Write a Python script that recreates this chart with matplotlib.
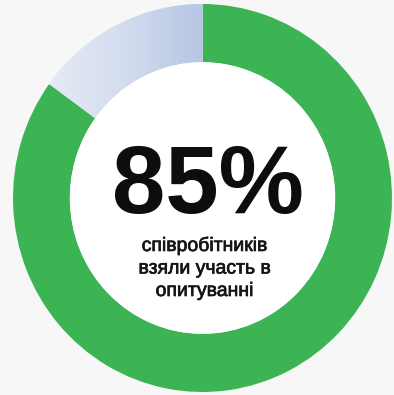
import matplotlib.patheffects as pe
import matplotlib.pyplot as plt
import numpy as np
from matplotlib.colors import LinearSegmentedColormap
from matplotlib.patches import Circle

shares = [85, 15]
share_colors = ["#3cb454", "#d6dff0"]
headline = "85%"
caption_lines = ["співробітників", "взяли участь в", "опитуванні"]

W, H = 394, 395
fig = plt.figure(figsize=(W / 100, H / 100), dpi=100)
fig.patch.set_facecolor("#f7f7f7")

# ring axes sits on the bounding box of the donut (pixel units)
left, right, top, bottom = 13, 392, 4, 392
ring = fig.add_axes([left / W, (H - bottom) / H, (right - left) / W, (bottom - top) / H])
wedges, _ = ring.pie(
    shares,
    colors=share_colors,
    startangle=90,
    counterclock=False,
    radius=1.0,
    wedgeprops=dict(width=0.30, edgecolor="none", linewidth=0),
)

# soft horizontal gradient on the remaining share
grad_cmap = LinearSegmentedColormap.from_list("rest", ["#e6ebf4", "#d3dcee", "#b7c6e4"])
grad = np.linspace(0, 1, 256).reshape(1, -1)
img = ring.imshow(grad, cmap=grad_cmap, extent=(-0.82, 0.0, 0.0, 1.0),
                  aspect="auto", interpolation="bilinear", zorder=2)
img.set_clip_path(wedges[1])

ring.add_patch(Circle((0, 0), 0.70, facecolor="white", edgecolor="none", zorder=3))
ring.set_xlim(-1, 1)
ring.set_ylim(-1, 1)
ring.set_aspect("auto")
ring.axis("off")

# text layer in pixel coordinates
txt = fig.add_axes([0, 0, 1, 1])
txt.set_xlim(0, W)
txt.set_ylim(H, 0)
txt.axis("off")

txt.text(208, 213, headline, ha="center", va="baseline", fontsize=69,
         fontweight="bold", family="Liberation Sans", color="#0d0d0d")
# caption is a touch heavier than the regular cut
thicken = [pe.withStroke(linewidth=0.5, foreground="#151515")]
for i, line in enumerate(caption_lines):
    txt.text(205, 251 + i * 22.5, line, ha="center", va="baseline", fontsize=14,
             family="Liberation Sans", color="#151515", path_effects=thicken)

fig.savefig("out.png", dpi=100, facecolor=fig.get_facecolor())
